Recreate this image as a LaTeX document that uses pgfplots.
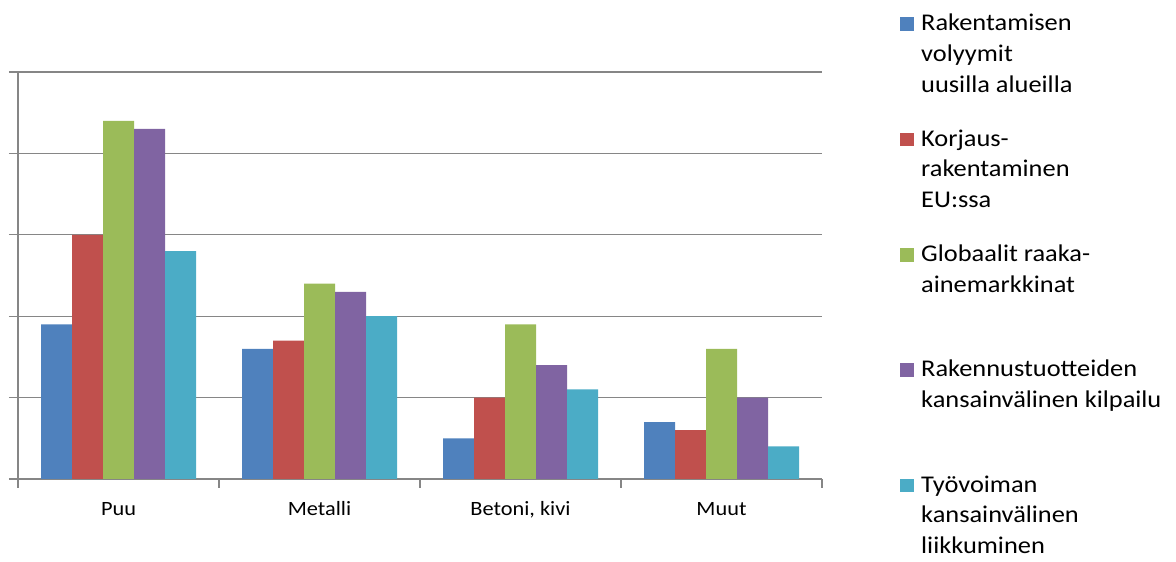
\documentclass[border=0pt]{standalone}
\usepackage{fontspec}
\setmainfont{Carlito}[FakeStretch=1.1]
\usepackage{pgfplots}
\pgfplotsset{compat=1.18}
\definecolor{c1}{RGB}{79,129,189}
\definecolor{c2}{RGB}{192,80,77}
\definecolor{c3}{RGB}{155,187,89}
\definecolor{c4}{RGB}{128,100,162}
\definecolor{c5}{RGB}{75,172,198}
\definecolor{gridc}{RGB}{134,134,134}
\newcommand{\legtxt}[1]{\parbox[t][115.3pt][t]{270pt}{\fontsize{24}{30.7}\selectfont\strut #1}}
\pgfplotsset{legsq/.style={legend image code/.code={\fill[##1] (0pt,0pt) rectangle (14pt,13.5pt);}}}
\begin{document}
\begin{tikzpicture}
\useasboundingbox (0,0) rectangle (1176pt,562pt);
\begin{axis}[
  at={(18pt,83pt)}, anchor=south west,
  scale only axis, width=804pt, height=407pt,
  xmin=0.5, xmax=4.5, ymin=0, ymax=5,
  ybar=0pt, bar width=31pt,
  axis x line*=bottom, axis y line*=left,
  axis line style={-, gridc, line width=1.2pt},
  tick align=outside,
  major tick length=9pt,
  tick style={gridc, line width=1.2pt},
  ytick={0,1,2,3,4,5}, yticklabels={},
  ymajorgrids, grid style={gridc, line width=1.2pt},
  xtick={0.5,1.5,2.5,3.5,4.5}, xticklabels={},
  extra x ticks={1,2,3,4},
  extra x tick labels={Puu,Metalli,{Betoni, kivi},Muut},
  extra x tick style={major tick length=0pt, tick style={draw=none},
    tick label style={anchor=base, yshift=-37pt}},
  tick label style={font=\fontsize{20.3}{24}\selectfont, text=black},
  legend style={at={(1.097,1.1541)}, anchor=north west, draw=none, fill=none,
    inner sep=0pt, nodes={inner sep=0pt, text depth=}, cells={anchor=base west},
    column sep=7pt, row sep=0pt},
]
\addplot[legsq, fill=c1, draw=none] coordinates {(1,1.9) (2,1.6) (3,0.5) (4,0.7)};
\addplot[legsq, fill=c2, draw=none] coordinates {(1,3.0) (2,1.7) (3,1.0) (4,0.6)};
\addplot[legsq, fill=c3, draw=none] coordinates {(1,4.4) (2,2.4) (3,1.9) (4,1.6)};
\addplot[legsq, fill=c4, draw=none] coordinates {(1,4.3) (2,2.3) (3,1.4) (4,1.0)};
\addplot[legsq, fill=c5, draw=none] coordinates {(1,2.8) (2,2.0) (3,1.1) (4,0.4)};
\addlegendentry{\legtxt{Rakentamisen\\volyymit\\uusilla alueilla}}
\addlegendentry{\legtxt{Korjaus-\\rakentaminen\\EU:ssa}}
\addlegendentry{\legtxt{Globaalit raaka-\\ainemarkkinat}}
\addlegendentry{\legtxt{Rakennustuotteiden\\kansainvälinen kilpailu}}
\addlegendentry{\legtxt{Työvoiman\\kansainvälinen\\liikkuminen}}
\end{axis}
\end{tikzpicture}
\end{document}
